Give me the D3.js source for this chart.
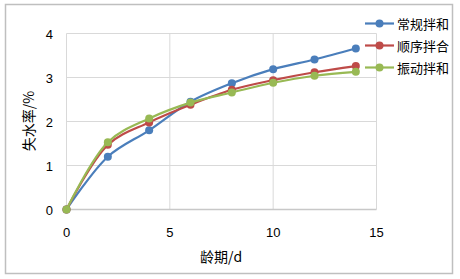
<!DOCTYPE html>
<html>
<head>
<meta charset="utf-8">
<script src="https://cdn.jsdelivr.net/npm/d3@7"></script>
<style>
  html, body { margin: 0; padding: 0; background: #fff; }
  svg { display: block; }
</style>
</head>
<body>
<div id="chart"></div>
<script>
/* Water loss rate vs. age — three mixing methods, smoothed lines. */
var days = [0, 2, 4, 6, 8, 10, 12, 14];
var seriesNames = ["常规拌和", "顺序拌合", "振动拌和"];
var seriesColors = ["#4a7ebb", "#be4b48", "#98b954"];
var normalMix = [0, 1.2, 1.8, 2.45, 2.87, 3.19, 3.41, 3.66];
var orderMix = [0, 1.47, 1.98, 2.38, 2.72, 2.94, 3.12, 3.26];
var vibroMix = [0, 1.53, 2.07, 2.43, 2.66, 2.88, 3.04, 3.13];
var xTicks = [0, 5, 10, 15];
var yTicks = [0, 1, 2, 3, 4];

var W = 460, H = 279;
var svg = d3.select("#chart").append("svg")
  .attr("width", W).attr("height", H);

/* Outer chart frame. */
svg.append("rect")
  .attr("x", 5.5).attr("y", 4.5)
  .attr("width", 447).attr("height", 269)
  .attr("fill", "#fff")
  .attr("stroke", "#bfbfbf")
  .attr("stroke-width", 1.5);

var x = d3.scaleLinear().domain([0, 15]).range([66.5, 376.5]);
var y = d3.scaleLinear().domain([0, 4]).range([209.5, 33.5]);

var numFont = "'Liberation Sans', 'Open Sans', sans-serif";
var cjkFont = "'Noto Sans CJK SC', sans-serif";

/* Grid. */
svg.append("g").selectAll("line").data(yTicks.slice(1)).enter().append("line")
  .attr("x1", x(0)).attr("x2", x(15))
  .attr("y1", function (d) { return y(d); })
  .attr("y2", function (d) { return y(d); })
  .attr("stroke", "#d9d9d9").attr("stroke-width", 1);
svg.append("g").selectAll("line").data(xTicks).enter().append("line")
  .attr("x1", function (d) { return x(d); })
  .attr("x2", function (d) { return x(d); })
  .attr("y1", y(4)).attr("y2", y(0))
  .attr("stroke", "#d9d9d9").attr("stroke-width", 1);
/* Base axis line. */
svg.append("line")
  .attr("x1", x(0)).attr("x2", x(15))
  .attr("y1", y(0)).attr("y2", y(0))
  .attr("stroke", "#c8c8c8").attr("stroke-width", 1.5);

/* Tick labels. */
svg.append("g").selectAll("text").data(yTicks).enter().append("text")
  .attr("x", 53).attr("y", function (d) { return y(d) + 5; })
  .attr("text-anchor", "end")
  .attr("font-family", numFont).attr("font-size", 13).attr("fill", "#000")
  .text(function (d) { return d; });
svg.append("g").selectAll("text").data(xTicks).enter().append("text")
  .attr("x", function (d) { return x(d); }).attr("y", 237)
  .attr("text-anchor", "middle")
  .attr("font-family", numFont).attr("font-size", 13).attr("fill", "#000")
  .text(function (d) { return d; });

/* Axis titles. */
svg.append("text")
  .attr("transform", "translate(34," + 121 + ") rotate(-90)")
  .attr("text-anchor", "middle")
  .attr("font-family", cjkFont).attr("font-size", 14).attr("fill", "#000")
  .text("失水率/%");
svg.append("text")
  .attr("x", 221).attr("y", 262)
  .attr("text-anchor", "middle")
  .attr("font-family", cjkFont).attr("font-size", 14).attr("fill", "#000")
  .text("龄期/d");

/* Series, drawn in order so the last one sits on top. */
var allSeries = [normalMix, orderMix, vibroMix];
var line = d3.line()
  .x(function (d, i) { return x(days[i]); })
  .y(function (d) { return y(d); })
  .curve(d3.curveCatmullRom.alpha(0.5));

allSeries.forEach(function (vals, k) {
  svg.append("path")
    .attr("d", line(vals))
    .attr("fill", "none")
    .attr("stroke", seriesColors[k])
    .attr("stroke-width", 2.2);
  svg.append("g").selectAll("circle").data(vals).enter().append("circle")
    .attr("cx", function (d, i) { return x(days[i]); })
    .attr("cy", function (d) { return y(d); })
    .attr("r", 4)
    .attr("fill", seriesColors[k]);
});

/* Legend. */
var legendY = [23.5, 45.5, 67.5];
seriesNames.forEach(function (name, k) {
  var ly = legendY[k];
  svg.append("line")
    .attr("x1", 365).attr("x2", 394)
    .attr("y1", ly).attr("y2", ly)
    .attr("stroke", seriesColors[k]).attr("stroke-width", 2.2);
  svg.append("circle")
    .attr("cx", 379.5).attr("cy", ly).attr("r", 4)
    .attr("fill", seriesColors[k]);
  svg.append("text")
    .attr("x", 397).attr("y", ly + 5)
    .attr("font-family", cjkFont).attr("font-size", 13).attr("fill", "#000")
    .text(name);
});
</script>
</body>
</html>
